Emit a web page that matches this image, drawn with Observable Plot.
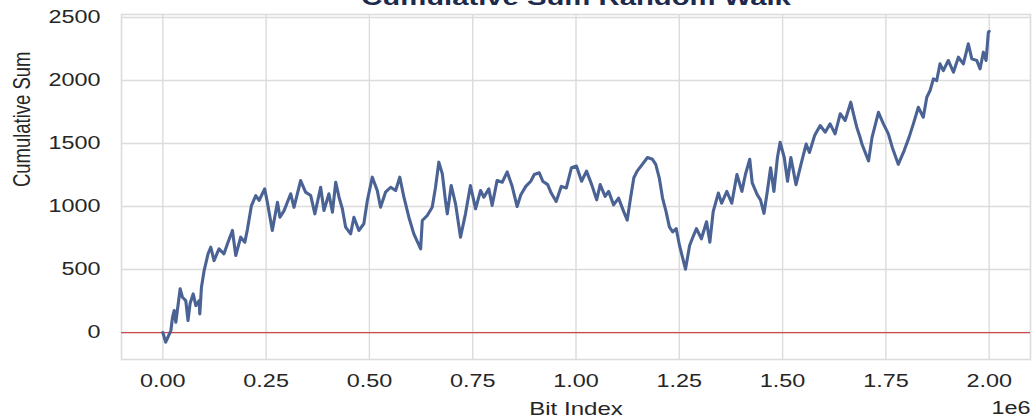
<!DOCTYPE html>
<html>
<head>
<meta charset="utf-8">
<script src="https://cdn.jsdelivr.net/npm/d3@7"></script>
<script src="https://cdn.jsdelivr.net/npm/@observablehq/plot@0.6"></script>
<style>
  html, body { margin: 0; padding: 0; background: #ffffff; }
  #chart { width: 1034px; height: 420px; overflow: hidden; }
</style>
</head>
<body>
<div id="chart"></div>
<script>
// Cumulative sum of a ±1 walk over two million bits, sampled along the path
const bitIndex = [
  0, 7000, 19500, 23500, 27500, 31500, 42000, 47500, 55500, 61000,
  66000, 73500, 80000, 88000, 89500, 93500, 100000, 109500, 116000, 124000,
  136000, 148000, 156500, 168500, 176500, 188500, 198500, 205000, 214500, 225000,
  233000, 246500, 253000, 265000, 277500, 283500, 293500, 309500, 317500, 333500,
  345500, 358000, 368000, 382000, 390000, 402000, 410500, 418500, 426500, 434500,
  442500, 454500, 462500, 474500, 486500, 495000, 507000, 519000, 527000, 539000,
  551500, 563500, 573500, 583500, 595500, 607500, 624000, 628000, 640000, 652000,
  660000, 668000, 676500, 684000, 688500, 698000, 708500, 720500, 732500, 744500,
  757000, 769000, 777000, 789000, 797000, 809000, 821500, 833500, 845500, 857500,
  866500, 878500, 890500, 899000, 911000, 919500, 931500, 940000, 952000, 964500,
  976500, 989000, 1001000, 1013500, 1025500, 1038000, 1050000, 1058500, 1070500, 1079000,
  1091000, 1103000, 1115500, 1124000, 1132000, 1140000, 1148000, 1160500, 1173000, 1185000,
  1193000, 1201500, 1209500, 1218000, 1226000, 1234000, 1242500, 1250500, 1265000, 1275000,
  1283000, 1291500, 1303500, 1316000, 1324000, 1332000, 1344500, 1352500, 1365000, 1377000,
  1389500, 1401500, 1410000, 1420500, 1426500, 1438500, 1446500, 1455000, 1463000, 1471000,
  1479000, 1487500, 1494000, 1504000, 1512000, 1520000, 1532500, 1544500, 1557000, 1565000,
  1577500, 1591000, 1603000, 1615000, 1627000, 1639500, 1651500, 1665000, 1671500, 1679500,
  1687500, 1692000, 1708000, 1716500, 1732000, 1744000, 1756000, 1765500, 1780000, 1794000,
  1806000, 1816500, 1828500, 1840500, 1849000, 1857000, 1865000, 1873000, 1881000, 1889000,
  1901000, 1913500, 1925500, 1937500, 1949500, 1958000, 1970000, 1978000, 1986000, 1992500,
  1998000, 2000000
];
const cumSum = [
  0, -77, 16, 121, 175, 82, 347, 280, 254, 95,
  230, 307, 214, 254, 148, 360, 492, 625, 677, 571,
  664, 625, 704, 810, 611, 757, 717, 823, 1008, 1087,
  1048, 1140, 1034, 810, 1034, 915, 968, 1101, 994, 1206,
  1114, 1087, 942, 1153, 968, 1101, 955, 1193, 1074, 982,
  836, 783, 915, 810, 863, 1048, 1233, 1127, 994, 1114,
  1153, 1127, 1233, 1074, 915, 783, 664, 889, 929, 994,
  1153, 1352, 1259, 1048, 942, 1167, 1021, 757, 942, 1167,
  982, 1127, 1074, 1140, 1008, 1206, 1193, 1275, 1160, 1000,
  1094, 1160, 1201, 1254, 1268, 1201, 1174, 1107, 1040, 1160,
  1147, 1308, 1321, 1201, 1281, 1174, 1053, 1174, 1080, 1120,
  1013, 1067, 960, 892, 1067, 1228, 1281, 1335, 1389, 1375,
  1335, 1228, 1067, 960, 839, 798, 825, 691, 503, 691,
  758, 825, 744, 879, 717, 960, 1107, 1026, 1120, 1026,
  1254, 1120, 1254, 1375, 1187, 1094, 1053, 946, 1120, 1308,
  1120, 1389, 1510, 1389, 1201, 1389, 1174, 1335, 1496, 1429,
  1563, 1643, 1590, 1656, 1577, 1736, 1683, 1828, 1736, 1630,
  1550, 1496, 1362, 1549, 1748, 1656, 1577, 1469, 1335, 1442,
  1549, 1656, 1788, 1709, 1867, 1921, 2013, 2000, 2132, 2079,
  2159, 2066, 2185, 2132, 2291, 2172, 2159, 2093, 2225, 2159,
  2383, 2390
];

// Axis ticks
const xTickValues = [0, 250000, 500000, 750000, 1000000, 1250000, 1500000, 1750000, 2000000];
const xTickLabels = ["0.00", "0.25", "0.50", "0.75", "1.00", "1.25", "1.50", "1.75", "2.00"];
const yTickValues = [0, 500, 1000, 1500, 2000, 2500];
const yTickLabels = ["0", "500", "1000", "1500", "2000", "2500"];

const walk = bitIndex.map((b, i) => ({bit: b, sum: cumSum[i]}));

const gridColor = "#dcdcdc";
const textColor = "#262626";

const chart = Plot.plot({
  width: 1034,
  height: 420,
  marginLeft: 121,
  marginRight: 4,
  marginTop: 14,
  marginBottom: 61,
  style: {
    fontFamily: "'Liberation Sans', Arial, sans-serif",
    fontSize: "18px",
    color: textColor,
    background: "#ffffff",
    overflow: "hidden"
  },
  x: {domain: [-100000, 2100000]},
  y: {domain: [-214, 2524]},
  marks: [
    Plot.gridX(xTickValues, {stroke: gridColor, strokeOpacity: 1, strokeWidth: 1.4}),
    Plot.gridY(yTickValues, {stroke: gridColor, strokeOpacity: 1, strokeWidth: 1.4}),
    Plot.frame({stroke: gridColor, strokeWidth: 1.6}),
    Plot.axisX(xTickValues, {
      tickSize: 0, tickPadding: 15, label: null, fill: textColor,
      tickFormat: (d) => xTickLabels[xTickValues.indexOf(d)]
    }),
    Plot.axisY(yTickValues, {
      tickSize: 0, tickPadding: 21, label: null, fill: textColor,
      tickFormat: (d) => yTickLabels[yTickValues.indexOf(d)]
    }),
    Plot.ruleY([0], {stroke: "#cf4a4a", strokeWidth: 1.2}),
    Plot.line(walk, {x: "bit", y: "sum", stroke: "#4a6394", strokeWidth: 3.1, strokeLinejoin: "round"}),
    Plot.text(["Cumulative Sum Random Walk"], {
      frameAnchor: "top", lineAnchor: "bottom", dy: -9.5,
      fontSize: 22.5, fontWeight: "bold", fill: "#1c2a4c"
    }),
    Plot.text(["Bit Index"], {
      frameAnchor: "bottom", lineAnchor: "bottom", dy: 55,
      fontSize: 18.5, fill: textColor
    }),
    Plot.text(["1e6"], {
      frameAnchor: "bottom-right", textAnchor: "end", lineAnchor: "bottom", dy: 54,
      fontSize: 18, fill: textColor
    }),
    Plot.text(["Cumulative Sum"], {
      frameAnchor: "left", rotate: -90, lineAnchor: "middle", dx: -99,
      fontSize: 24, fill: textColor
    })
  ]
});

document.getElementById("chart").appendChild(chart);

// Widen horizontal text and narrow the rotated label so glyphs have the
// same broad proportions as the rest of the figure.
const stretch = 1.3;
chart.querySelectorAll("text").forEach((t) => {
  const len = t.getComputedTextLength();
  if (!len) return;
  const rotated = (t.getAttribute("transform") || "").includes("rotate");
  t.setAttribute("textLength", rotated ? len / stretch : len * stretch);
  t.setAttribute("lengthAdjust", "spacingAndGlyphs");
});
</script>
</body>
</html>
